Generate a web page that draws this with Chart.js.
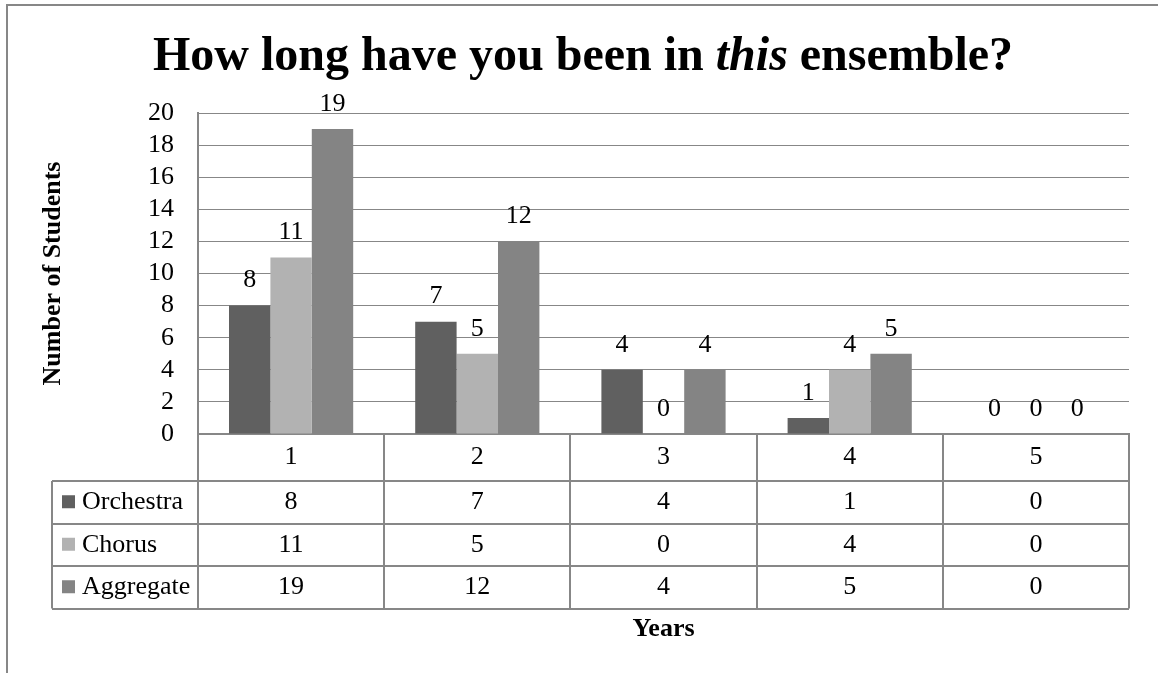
<!DOCTYPE html>
<html>
<head>
<meta charset="utf-8">
<script src="https://cdn.jsdelivr.net/npm/chart.js@4.4.1/dist/chart.umd.min.js"></script>
<style>
  html, body { margin: 0; padding: 0; background: #fff; }
</style>
</head>
<body>
<canvas id="ensembleChart" width="1158" height="673"></canvas>
<script>
// chart values
const years = ['1', '2', '3', '4', '5'];
const orchestra = [8, 7, 4, 1, 0];
const chorus = [11, 5, 0, 4, 0];
const aggregate = [19, 12, 4, 5, 0];
const yMin = 0, yMax = 20, yStep = 2;

const serif = "'Liberation Serif', 'Times New Roman', serif";
const lineGray = '#878787';

function line(ctx, x1, y1, x2, y2) {
    ctx.beginPath();
    ctx.moveTo(x1, y1);
    ctx.lineTo(x2, y2);
    ctx.stroke();
}

// outer frame + title with the italic "this"
const framePlugin = {
    id: 'frame',
    beforeDraw(chart) {
        const ctx = chart.ctx;
        ctx.save();
        ctx.fillStyle = '#fff';
        ctx.fillRect(0, 0, chart.width, chart.height);
        ctx.strokeStyle = lineGray;
        ctx.lineWidth = 2;
        ctx.beginPath();
        ctx.moveTo(7, chart.height);
        ctx.lineTo(7, 5);
        ctx.lineTo(chart.width, 5);
        ctx.stroke();

        const parts = [
            ['How long have you been in ', 'bold'],
            ['this', 'italic bold'],
            [' ensemble?', 'bold']
        ];
        let x = 153;
        ctx.fillStyle = '#000';
        ctx.textBaseline = 'alphabetic';
        ctx.textAlign = 'left';
        parts.forEach(p => {
            ctx.font = p[1] + ' 48px ' + serif;
            ctx.fillText(p[0], x, 70);
            x += ctx.measureText(p[0]).width;
        });
        ctx.restore();
    }
};

// value labels above the bars
const valueLabels = {
    id: 'valueLabels',
    afterDatasetsDraw(chart) {
        const ctx = chart.ctx;
        ctx.save();
        ctx.font = '26px ' + serif;
        ctx.fillStyle = '#000';
        ctx.textAlign = 'center';
        ctx.textBaseline = 'middle';
        chart.data.datasets.forEach((ds, i) => {
            chart.getDatasetMeta(i).data.forEach((bar, j) => {
                ctx.fillText(String(ds.data[j]), bar.x, bar.y - 25);
            });
        });
        ctx.restore();
    }
};

// Excel style data table under the plot
const dataTable = {
    id: 'dataTable',
    afterDraw(chart) {
        const ctx = chart.ctx;
        const area = chart.chartArea;
        const xs = chart.scales.x;
        const headH = 47, rowH = 42.5, keyLeft = 52;
        const sets = chart.data.datasets;
        const bottom = area.bottom + headH + sets.length * rowH;
        const step = (area.right - area.left) / years.length;

        ctx.save();
        ctx.strokeStyle = lineGray;
        ctx.lineWidth = 2;
        for (let r = 0; r <= sets.length; r++) {
            const y = Math.round(area.bottom + headH + r * rowH);
            line(ctx, keyLeft, y, area.right, y);
        }
        for (let c = 0; c <= years.length; c++) {
            const x = Math.round(area.left + c * step);
            line(ctx, x, area.bottom, x, bottom);
        }
        line(ctx, keyLeft, area.bottom + headH, keyLeft, bottom);

        ctx.font = '26px ' + serif;
        ctx.fillStyle = '#000';
        ctx.textBaseline = 'middle';
        ctx.textAlign = 'center';
        years.forEach((yr, i) => ctx.fillText(yr, xs.getPixelForValue(i), area.bottom + headH / 2));

        sets.forEach((ds, r) => {
            const cy = area.bottom + headH + r * rowH + rowH / 2;
            ctx.textAlign = 'center';
            ctx.fillStyle = '#000';
            ds.data.forEach((v, i) => ctx.fillText(String(v), xs.getPixelForValue(i), cy));
            ctx.fillStyle = ds.backgroundColor;
            ctx.fillRect(62, cy - 7, 13, 13);
            ctx.fillStyle = '#000';
            ctx.textAlign = 'left';
            ctx.fillText(ds.label, 82, cy);
        });
        ctx.restore();
    }
};

const ctx = document.getElementById('ensembleChart').getContext('2d');
new Chart(ctx, {
    type: 'bar',
    data: {
        labels: years,
        datasets: [
            { label: 'Orchestra', data: orchestra, backgroundColor: '#606060' },
            { label: 'Chorus', data: chorus, backgroundColor: '#b2b2b2' },
            { label: 'Aggregate', data: aggregate, backgroundColor: '#848484' }
        ]
    },
    options: {
        responsive: false,
        animation: false,
        layout: { padding: { top: 113, right: 29, left: 0, bottom: 0 } },
        datasets: {
            bar: { categoryPercentage: 0.667, barPercentage: 1.0, borderWidth: 0 }
        },
        plugins: {
            legend: { display: false },
            tooltip: { enabled: false },
            title: { display: false }
        },
        scales: {
            x: {
                ticks: { display: false },
                grid: { display: false },
                border: { display: true, color: lineGray, width: 2 },
                title: {
                    display: true,
                    text: 'Years',
                    color: '#000',
                    font: { family: serif, size: 26, weight: 'bold' },
                    padding: { top: 0, bottom: 28 }
                },
                afterFit(scale) { scale.height = 239; }
            },
            y: {
                min: yMin,
                max: yMax,
                ticks: {
                    stepSize: yStep,
                    autoSkip: false,
                    color: '#000',
                    padding: 24,
                    font: { family: serif, size: 26 }
                },
                grid: { color: lineGray, lineWidth: 1, drawTicks: false },
                border: { display: true, color: lineGray, width: 2 },
                title: {
                    display: true,
                    text: 'Number of Students',
                    color: '#000',
                    font: { family: serif, size: 26, weight: 'bold' },
                    padding: { top: 38, bottom: 0 }
                },
                afterFit(scale) { scale.width = 198; }
            }
        }
    },
    plugins: [framePlugin, valueLabels, dataTable]
});
</script>
</body>
</html>
